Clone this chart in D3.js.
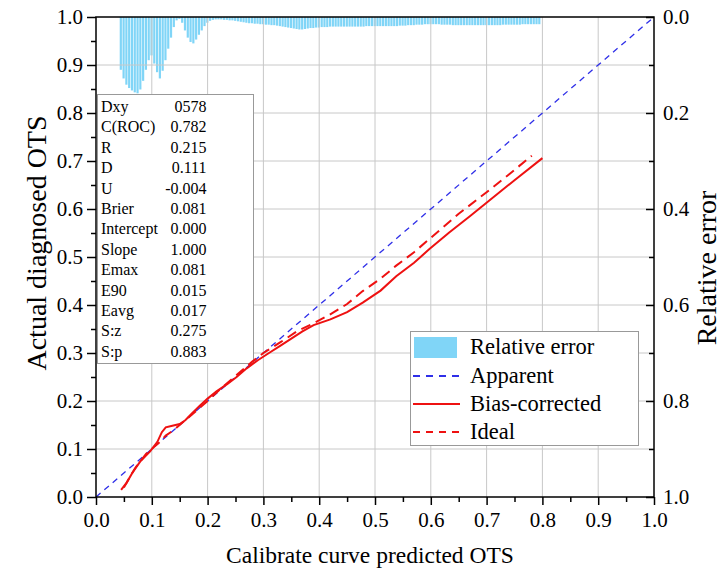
<!DOCTYPE html>
<html><head><meta charset="utf-8">
<script src="https://cdn.jsdelivr.net/npm/d3@7"></script>
<style>
body{margin:0;background:#fff}
text{font-family:"Liberation Serif","Times New Roman",serif;fill:#000}
</style>
</head><body>
<svg id="c" width="721" height="581"></svg>
<script>
// ---------- data ----------
const xTicks = [0,0.1,0.2,0.3,0.4,0.5,0.6,0.7,0.8,0.9,1.0];
const xMinor = [0.05,0.15,0.25,0.35,0.45,0.55,0.65,0.75,0.85,0.95];
const yTicks = [0,0.1,0.2,0.3,0.4,0.5,0.6,0.7,0.8,0.9,1.0];
const yMinor = [0.05,0.15,0.25,0.35,0.45,0.55,0.65,0.75,0.85,0.95];
const rTicks = [0,0.2,0.4,0.6,0.8,1.0];
const rMinor = [0.1,0.3,0.5,0.7,0.9];

const apparentX = [0,1];
const apparentY = [0,1];

const biasX = [0.045,0.055,0.065,0.08,0.097,0.11,0.118,0.125,0.135,0.15,0.16,0.17,0.186,0.2,0.216,0.235,0.252,0.27,0.29,0.31,0.33,0.35,0.37,0.39,0.42,0.45,0.478,0.51,0.538,0.57,0.597,0.633,0.67,0.701,0.75,0.8];
const biasY = [0.015,0.03,0.05,0.075,0.095,0.115,0.135,0.145,0.148,0.152,0.16,0.172,0.19,0.205,0.22,0.235,0.25,0.268,0.285,0.3,0.315,0.33,0.345,0.358,0.37,0.385,0.405,0.43,0.46,0.488,0.516,0.551,0.585,0.614,0.66,0.706];

const idealX = [0.05,0.07,0.09,0.1,0.115,0.125,0.14,0.16,0.18,0.2,0.22,0.25,0.28,0.3,0.33,0.36,0.39,0.419,0.45,0.478,0.51,0.538,0.57,0.597,0.615,0.65,0.7,0.74,0.781];
const idealY = [0.02,0.06,0.09,0.1,0.115,0.128,0.14,0.16,0.18,0.2,0.222,0.252,0.282,0.3,0.322,0.345,0.362,0.38,0.402,0.429,0.455,0.482,0.51,0.537,0.555,0.59,0.635,0.672,0.711];

const barStart = 0.045, barStep = 0.005;
const relErr = [
0.110,0.128,0.141,0.148,0.153,0.157,0.159,0.151,0.133,0.110,
0.090,0.080,0.097,0.115,0.128,0.112,0.090,0.066,0.043,0.021,
0.007,0.004,0.012,0.028,0.043,0.052,0.055,0.047,0.037,0.028,
0.019,0.012,0.008,0.006,0.005,0.005,0.005,0.006,0.006,0.007,
0.007,0.008,0.009,0.010,0.011,0.012,0.013,0.013,0.014,0.014,
0.015,0.015,0.016,0.016,0.017,0.017,0.018,0.019,0.020,0.021,
0.022,0.023,0.024,0.025,0.026,0.026,0.025,0.024,0.023,0.023,
0.022,0.022,0.021,0.021,0.021,0.020,0.020,0.020,0.020,0.020,
0.020,0.020,0.020,0.020,0.020,0.020,0.020,0.020,0.019,0.019,
0.019,0.019,0.019,0.019,0.019,0.019,0.019,0.019,0.019,0.019,
0.018,0.018,0.018,0.017,0.017,0.017,0.016,0.016,0.016,0.015,
0.015,0.015,0.015,0.015,0.015,0.016,0.016,0.016,0.016,0.017,
0.017,0.017,0.017,0.017,0.017,0.017,0.017,0.017,0.017,0.017,
0.017,0.017,0.017,0.017,0.017,0.017,0.017,0.016,0.016,0.016,
0.016,0.016,0.016,0.016,0.015,0.015,0.015,0.015,0.015,0.015,
0.015];

const statNames = ["Dxy","C(ROC)","R","D","U","Brier","Intercept","Slope","Emax","E90","Eavg","S:z","S:p"];
const statValues = ["0578","0.782","0.215","0.111","-0.004","0.081","0.000","1.000","0.081","0.015","0.017","0.275","0.883"];

const legendLabels = ["Relative error","Apparent","Bias-corrected","Ideal"];

// ---------- drawing ----------
const svg = d3.select("#c");
const L=96, R=654, T=17, B=497;
const x = d3.scaleLinear().domain([0,1]).range([L,R]);
const y = d3.scaleLinear().domain([0,1]).range([B,T]);
const yR = d3.scaleLinear().domain([0,1]).range([T,B]);
const fmt = d3.format(".1f");
const barColor = "#80d5f7";
const gridColor = "#c8c8c8";
const blue = "#2f2fe8", red = "#ee1111";

// bars
const bw = x(barStep) - x(0);
svg.append("g").selectAll("rect").data(relErr).join("rect")
  .attr("x", (d,i)=> x(barStart + i*barStep) - bw/2)
  .attr("y", yR(0))
  .attr("width", bw - 0.6)
  .attr("height", d => yR(d) - yR(0))
  .attr("fill", barColor);

// grid
const grid = svg.append("g").attr("stroke", gridColor).attr("stroke-width",1);
grid.selectAll(".gx").data(xTicks.slice(1,-1)).join("line")
  .attr("x1", d=>x(d)).attr("x2", d=>x(d)).attr("y1", T).attr("y2", B);
grid.selectAll(".gy").data(yTicks.slice(1,-1)).join("line")
  .attr("y1", d=>y(d)).attr("y2", d=>y(d)).attr("x1", L).attr("x2", R);

// stats box
const sb = svg.append("g");
sb.append("rect").attr("x",97.5).attr("y",94.5).attr("width",156).attr("height",269)
  .attr("fill","#fff").attr("stroke","#999").attr("stroke-width",1);
statNames.forEach((n,i)=>{
  sb.append("text").attr("x",101).attr("y",112+i*20.4).attr("font-size",16).text(n);
  sb.append("text").attr("x",206.5).attr("y",112+i*20.4).attr("font-size",16)
    .attr("text-anchor","end").text(statValues[i]);
});

// lines
const line = d3.line().x(d=>x(d[0])).y(d=>y(d[1]));
svg.append("path").datum(apparentX.map((v,i)=>[v,apparentY[i]]))
  .attr("d", line).attr("fill","none").attr("stroke",blue).attr("stroke-width",1.3)
  .attr("stroke-dasharray","6,5");
svg.append("path").datum(idealX.map((v,i)=>[v,idealY[i]]))
  .attr("d", line).attr("fill","none").attr("stroke",red).attr("stroke-width",2)
  .attr("stroke-dasharray","10,6");
svg.append("path").datum(biasX.map((v,i)=>[v,biasY[i]]))
  .attr("d", line).attr("fill","none").attr("stroke",red).attr("stroke-width",2);

// frame
svg.append("rect").attr("x",L).attr("y",T).attr("width",R-L).attr("height",B-T)
  .attr("fill","none").attr("stroke","#000").attr("stroke-width",1.5);

// axes
function styleAxis(g){ g.select(".domain").remove(); g.selectAll("line").attr("stroke","#000").attr("stroke-width",1.5); g.selectAll("text").attr("font-size",21).attr("font-family","Liberation Serif"); }
svg.append("g").attr("transform",`translate(0,${B})`)
  .call(d3.axisBottom(x).tickValues(xTicks).tickFormat(fmt).tickSize(8).tickPadding(7)).call(styleAxis);
svg.append("g").attr("transform",`translate(0,${B})`)
  .call(d3.axisBottom(x).tickValues(xMinor).tickFormat("").tickSize(5)).call(styleAxis);
svg.append("g").attr("transform",`translate(${L},0)`)
  .call(d3.axisLeft(y).tickValues(yTicks).tickFormat(fmt).tickSize(9).tickPadding(4)).call(styleAxis);
svg.append("g").attr("transform",`translate(${L},0)`)
  .call(d3.axisLeft(y).tickValues(yMinor).tickFormat("").tickSize(5)).call(styleAxis);
svg.append("g").attr("transform",`translate(${R},0)`)
  .call(d3.axisRight(yR).tickValues(rTicks).tickFormat(fmt).tickSize(-8).tickPadding(9)).call(styleAxis);
svg.append("g").attr("transform",`translate(${R},0)`)
  .call(d3.axisRight(yR).tickValues(rMinor).tickFormat("").tickSize(-5)).call(styleAxis);

// titles
svg.append("text").attr("x",370).attr("y",563).attr("text-anchor","middle").attr("font-size",23.5)
  .text("Calibrate curve predicted OTS");
svg.append("text").attr("transform",`translate(46,243) rotate(-90)`).attr("text-anchor","middle").attr("font-size",28)
  .text("Actual diagnosed OTS");
svg.append("text").attr("transform",`translate(716,268) rotate(-90)`).attr("text-anchor","middle").attr("font-size",28)
  .text("Relative error");

// legend
const lg = svg.append("g");
lg.append("rect").attr("x",410.5).attr("y",331.5).attr("width",228).attr("height",114)
  .attr("fill","#fff").attr("stroke","#999");
const rowY = [347,376,404,432];
lg.append("rect").attr("x",414).attr("y",337).attr("width",43).attr("height",21).attr("fill",barColor);
lg.append("line").attr("x1",413).attr("x2",460).attr("y1",rowY[1]).attr("y2",rowY[1])
  .attr("stroke",blue).attr("stroke-width",2).attr("stroke-dasharray","7,6");
lg.append("line").attr("x1",413).attr("x2",460).attr("y1",rowY[2]).attr("y2",rowY[2])
  .attr("stroke",red).attr("stroke-width",2);
lg.append("line").attr("x1",413).attr("x2",460).attr("y1",rowY[3]).attr("y2",rowY[3])
  .attr("stroke",red).attr("stroke-width",2).attr("stroke-dasharray","7,6");
legendLabels.forEach((t,i)=>{
  lg.append("text").attr("x",470).attr("y",rowY[i]+7).attr("font-size",22.5).text(t);
});
</script>
</body></html>
